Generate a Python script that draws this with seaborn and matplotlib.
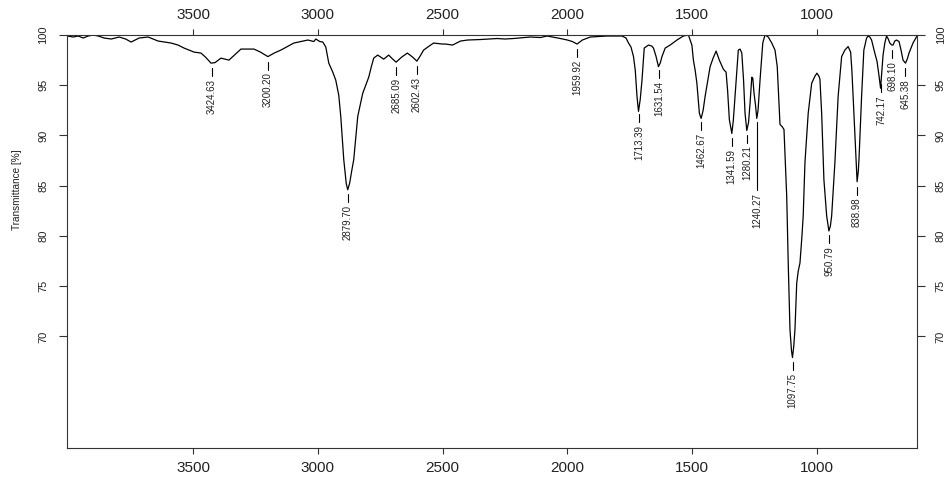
import numpy as np
import pandas as pd
import seaborn as sns
import matplotlib.pyplot as plt

# IR spectrum (wavenumber in cm-1, transmittance in %)
wavenumber = [
    4004, 3980, 3960, 3940, 3920, 3900, 3880, 3856, 3828, 3796, 3770, 3748, 3716, 3680, 3660,
    3640, 3588, 3560, 3536, 3496, 3468, 3450, 3428, 3412, 3388, 3372, 3356, 3330, 3308, 3256,
    3230, 3200, 3175, 3148, 3096, 3040, 3016, 3008, 2992, 2980, 2968, 2956, 2940, 2928, 2916,
    2908, 2896, 2886, 2880, 2872, 2864, 2856, 2840, 2820, 2796, 2786, 2776, 2760, 2748, 2736,
    2716, 2700, 2686, 2664, 2641, 2620, 2603, 2590, 2576, 2548, 2536, 2501, 2488, 2460, 2428,
    2400, 2348, 2281, 2250, 2216, 2148, 2108, 2081, 2028, 2000, 1980, 1961, 1940, 1908, 1841,
    1781, 1765, 1755, 1745, 1735, 1728, 1721, 1715, 1708, 1701, 1692, 1675, 1662, 1655, 1645,
    1635, 1628, 1621, 1608, 1588, 1561, 1535, 1515, 1508, 1501, 1495, 1488, 1481, 1471, 1464,
    1456, 1448, 1428, 1416, 1404, 1391, 1382, 1375, 1364, 1358, 1351, 1341, 1335, 1328, 1320,
    1315, 1308, 1301, 1294, 1288, 1281, 1274, 1268, 1261, 1257, 1252, 1246, 1241, 1236, 1228,
    1217, 1208, 1195, 1181, 1168, 1159, 1148, 1140, 1132, 1126, 1121, 1115, 1108, 1102, 1098,
    1093, 1088, 1081, 1075, 1068, 1060, 1055, 1048, 1035, 1021, 1008, 1000, 992, 988, 981,
    972, 961, 952, 946, 941, 928, 915, 901, 888, 875, 865, 860, 855, 844, 839,
    834, 831, 821, 812, 801, 795, 788, 781, 768, 759, 751, 745, 741, 735, 728,
    721, 714, 708, 700, 695, 688, 681, 671, 663, 655, 645, 638, 631, 615, 601,
    599,
]
transmittance = [
    99.9, 99.8, 99.9, 99.7, 99.9, 100.0, 99.9, 99.7, 99.6, 99.8, 99.6, 99.3, 99.7, 99.8, 99.6,
    99.4, 99.2, 99.0, 98.7, 98.3, 98.2, 97.8, 97.2, 97.25, 97.7, 97.6, 97.5, 98.1, 98.6, 98.6,
    98.3, 97.85, 98.2, 98.5, 99.2, 99.5, 99.35, 99.6, 99.35, 99.3, 98.8, 97.2, 96.3, 95.5, 94.0,
    91.9, 87.6, 85.2, 84.6, 85.3, 86.5, 87.6, 91.9, 94.2, 95.8, 96.8, 97.7, 98.0, 97.8, 97.6,
    98.0, 97.6, 97.3, 97.8, 98.2, 97.8, 97.4, 97.9, 98.5, 99.0, 99.2, 99.1, 99.1, 99.0, 99.4,
    99.5, 99.55, 99.65, 99.6, 99.65, 99.8, 99.75, 99.9, 99.65, 99.5, 99.35, 99.1, 99.5, 99.8, 99.9,
    99.9, 99.7, 99.2, 98.8, 97.85, 96.5, 93.9, 92.4, 93.6, 95.5, 98.7, 99.0, 98.9, 98.7, 97.9,
    96.85, 97.2, 97.85, 98.7, 99.0, 99.5, 99.9, 100.0, 99.5, 99.0, 97.5, 96.5, 95.2, 92.2, 91.7,
    92.5, 93.9, 96.85, 97.7, 98.4, 97.5, 97.0, 96.6, 96.3, 94.5, 91.6, 90.2, 91.5, 93.9, 96.5,
    98.5, 98.6, 98.2, 95.5, 92.2, 90.5, 91.3, 93.2, 95.8, 95.7, 94.2, 93.0, 91.7, 92.5, 95.5,
    99.2, 100.0, 99.8, 99.2, 98.5, 96.85, 91.1, 90.9, 90.6, 87.0, 83.9, 77.3, 70.7, 68.6, 67.9,
    69.0, 70.7, 75.3, 76.5, 77.3, 80.0, 82.0, 87.3, 92.2, 95.2, 95.9, 96.2, 95.9, 95.6, 92.2,
    85.6, 82.0, 80.5, 81.0, 82.0, 87.3, 93.9, 97.85, 98.5, 98.85, 98.3, 96.5, 93.9, 87.9, 85.4,
    86.5, 87.9, 93.9, 98.5, 99.7, 99.9, 99.8, 99.5, 98.2, 97.35, 95.9, 94.7, 96.0, 98.0, 99.2,
    99.9, 99.6, 99.2, 99.0, 99.0, 99.4, 99.5, 99.35, 98.5, 97.5, 97.2, 97.6, 98.2, 99.2, 99.8,
    99.9,
]

peak_labels = [3424.63, 3200.20, 2879.70, 2685.09, 2602.43, 1959.92, 1713.39, 1631.54,
               1462.67, 1341.59, 1280.21, 1240.27, 1097.75, 950.79, 838.98, 742.17,
               698.10, 645.38]

x_ticks = [3500, 3000, 2500, 2000, 1500, 1000]
y_ticks = [70, 75, 80, 85, 90, 95, 100]

df = pd.DataFrame({'wavenumber': wavenumber, 'transmittance': transmittance})

sns.set_style('ticks')
plt.rcParams['font.family'] = ['Liberation Sans', 'DejaVu Sans']

fig = plt.figure(figsize=(9.52, 4.79), dpi=100)
ax = fig.add_axes([67 / 952, 1 - 448 / 479, 850 / 952, 413 / 479])

sns.lineplot(data=df, x='wavenumber', y='transmittance', ax=ax, color='black',
             linewidth=0.9, estimator=None, sort=False)

ax.set_xlim(4005, 599)
ax.set_ylim(58.9, 100)
ax.set_xticks(x_ticks)
ax.set_yticks(y_ticks)
ax.set_xlabel('')
ax.set_ylabel('Transmittance [%]', fontsize=7.2, color='#222222', va='center')
ax.yaxis.set_label_coords(-0.059, 0.625)

for s in ax.spines.values():
    s.set_linewidth(0.8)
    s.set_color('#333333')

ax.tick_params(axis='x', top=True, labeltop=True, direction='out', length=4.5,
               width=0.8, pad=5, labelsize=11, colors='#333333', labelcolor='#222222')
ax.tick_params(axis='y', right=True, labelright=True, direction='out', length=6,
               width=0.8, pad=7.5, labelsize=8, labelrotation=90, colors='#333333',
               labelcolor='#222222')
for t in ax.yaxis.get_major_ticks():
    t.label1.set_va('center')
    t.label2.set_va('center')

# peak labels: short tick under each band, then the rotated wavenumber
wn_sorted = np.array(wavenumber)[::-1]
tr_sorted = np.array(transmittance)[::-1]
px = 1 / 10.06  # one pixel in transmittance units
for wn in peak_labels:
    t = np.interp(wn, wn_sorted, tr_sorted)
    extra = 60 if wn == 1240.27 else 0
    ax.plot([wn, wn], [t - 5 * px, t - (13 + extra) * px], color='black', lw=0.8)
    ax.annotate(f'{wn:.2f}', xy=(wn, t), xytext=(0, -(16 + extra) * 0.72),
                textcoords='offset points', rotation=90, ha='center', va='top',
                fontsize=7, color='#222222')

plt.savefig('out.png', dpi=100)
